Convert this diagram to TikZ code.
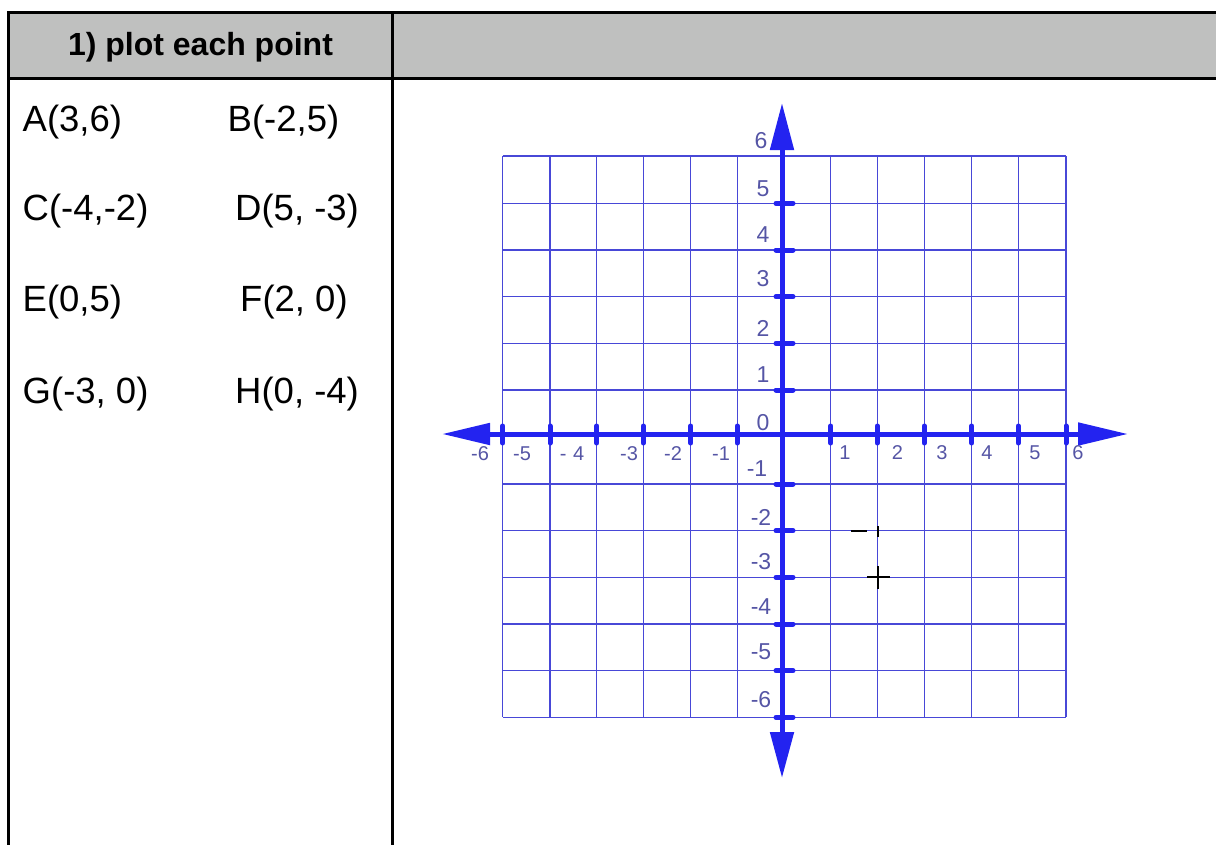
\documentclass[tikz,border=0pt]{standalone}
\usepackage{fontspec}
\setmainfont{Liberation Sans}
\usetikzlibrary{arrows.meta}
\definecolor{headgray}{RGB}{191,192,191}
\definecolor{gridblue}{RGB}{72,72,215}
\definecolor{axisblue}{RGB}{35,35,240}
\definecolor{labelblue}{RGB}{85,85,165}
\tikzset{
  tableline/.style={line width=3pt, black},
  gridline/.style={line width=1.4pt, gridblue},
  axisline/.style={line width=5pt, axisblue},
  tickmark/.style={line width=5pt, axisblue, line cap=round},
  ptext/.style={anchor=base west, inner sep=0pt, font=\fontsize{36.5}{40}\selectfont},
  headtext/.style={anchor=base, inner sep=0pt, font=\bfseries\fontsize{32}{38}\selectfont},
  ticklabel/.style={inner sep=0pt, text=labelblue, font=\fontsize{20}{22}\selectfont},
  ylabel/.style={inner sep=0pt, text=labelblue, font=\fontsize{23}{25}\selectfont},
  penmark/.style={line width=2pt, black}
}
\begin{document}
\begin{tikzpicture}[x=1pt,y=-1pt]
\useasboundingbox (0,0) rectangle (1216,844);
% table
\fill[headgray] (8,12) rectangle (1218,78);
\draw[tableline] (1218,12) -- (8,12) -- (8,846);
\draw[tableline] (8,78.5) -- (1218,78.5);
\draw[tableline] (392.5,12) -- (392.5,846);
\node[headtext] (head) at (200.5,55) {1) plot each point};
% points
\node[ptext] (A) at (22.5,131.5) {A(3,6)};
\node[ptext] (B) at (227.5,131.5) {B(-2,5)};
\node[ptext] (C) at (22.5,220.5) {C(-4,-2)};
\node[ptext] (D) at (235,220.5) {D(5, -3)};
\node[ptext] (E) at (22.5,311.5) {E(0,5)};
\node[ptext] (F) at (240,311.5) {F(2, 0)};
\node[ptext] (G) at (22.5,403) {G(-3, 0)};
\node[ptext] (H) at (235,403) {H(0, -4)};
% grid
\foreach \x in {502.7,550,596.7,643.3,690.7,737.3,830.7,877.3,924.3,971.7,1018.3,1066}
  \draw[gridline] (\x,156) -- (\x,717.3);
\foreach \y in {156,203.3,250,296.7,343.3,390,484,530.7,577.3,624,670.7,717.3}
  \draw[gridline] (502.7,\y) -- (1066,\y);
% axes
\coordinate (ytop) at (782,103);
\coordinate (ybot) at (782,778);
\coordinate (xleft) at (442,434);
\coordinate (xright) at (1128,434);
\draw[axisline, {Triangle[length=47pt,width=23pt]}-{Triangle[length=46pt,width=23pt]}] (ytop) -- (ybot);
\draw[axisline, {Triangle[length=48pt,width=21pt]}-{Triangle[length=50pt,width=22pt]}] (xleft) -- (xright);
% ticks
\foreach \x in {502.7,550,596.7,643.3,690.7,737.3,830.7,877.3,924.3,971.7,1018.3,1066}
  \draw[tickmark] (\x,426) -- (\x,443);
\foreach \y in {203.3,250,296.7,343.3,390,484,530.7,577.3,624,670.7,717.3}
  \draw[tickmark] (776,\y) -- (793,\y);
% y labels
\node[ylabel] (y6) at (761,141) {6};
\node[ylabel] (y5) at (763,189) {5};
\node[ylabel] (y4) at (763,235) {4};
\node[ylabel] (y3) at (763,279) {3};
\node[ylabel] (y2) at (763,328) {2};
\node[ylabel] (y1) at (763,375) {1};
\node[ylabel] (y0) at (763,423) {0};
\node[ylabel] (ym1) at (757,469) {-1};
\node[ylabel] (ym2) at (761,517) {-2};
\node[ylabel] (ym3) at (761,562) {-3};
\node[ylabel] (ym4) at (761,607) {-4};
\node[ylabel] (ym5) at (761,652) {-5};
\node[ylabel] (ym6) at (761,700) {-6};
% x labels
\node[ticklabel] (xm6) at (480,454) {-6};
\node[ticklabel] (xm5) at (522,454) {-5};
\node[ticklabel] (xm4) at (572,454) {-\,\,4};
\node[ticklabel] (xm3) at (629,454) {-3};
\node[ticklabel] (xm2) at (673,454) {-2};
\node[ticklabel] (xm1) at (721,454) {-1};
\node[ticklabel] (x1) at (845,453) {1};
\node[ticklabel] (x2) at (897.5,453) {2};
\node[ticklabel] (x3) at (942,453) {3};
\node[ticklabel] (x4) at (987,453) {4};
\node[ticklabel] (x5) at (1035,453) {5};
\node[ticklabel] (x6) at (1078,453) {6};
% pencil marks
\draw[penmark] (851,530.7) -- (867,530.7);
\draw[penmark] (878,526) -- (878,537);
\draw[penmark] (867,577.3) -- (890,577.3);
\draw[penmark] (878,566) -- (878,589);
\end{tikzpicture}
\end{document}
